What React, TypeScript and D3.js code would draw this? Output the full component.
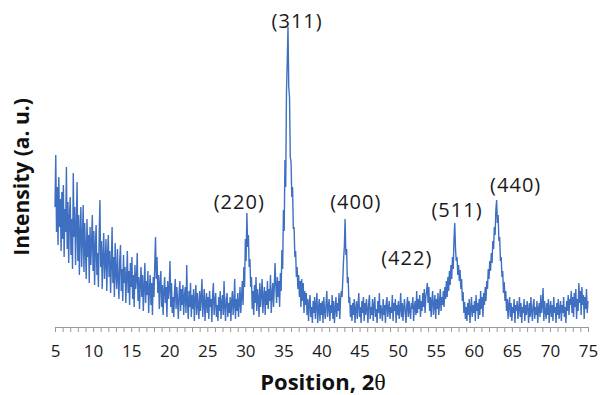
import * as d3 from 'd3';
import { useEffect, useRef } from 'react';

// 2-theta grid: 5.0 .. 75.0, step 0.1 deg
const startAngle = 5;
const stepAngle = 0.1;

// intensity (a.u.), one row per degree
const intensity: number[] = [
  120, 172, 95, 140, 82, 150, 100, 128, 76, 135,
  88, 142, 70, 118, 95, 160, 78, 125, 64, 110,
  130, 72, 108, 58, 154, 90, 120, 62, 100, 145,
  66, 112, 52, 96, 120, 60, 88, 122, 55, 104,
  78, 48, 108, 70, 92, 44, 100, 62, 84, 112,
  56, 96, 42, 80, 102, 52, 74, 40, 90, 127,
  60, 86, 38, 72, 94, 48, 66, 88, 36, 70,
  92, 50, 76, 34, 62, 100, 44, 70, 30, 84,
  54, 38, 78, 48, 28, 66, 82, 36, 58, 26,
  72, 44, 60, 24, 50, 76, 34, 56, 22, 64,
  40, 70, 28, 52, 20, 62, 38, 48, 74, 26,
  50, 18, 44, 60, 30, 52, 16, 40, 64, 24,
  46, 32, 56, 14, 38, 52, 22, 44, 12, 50,
  30, 62, 90, 48, 70, 34, 52, 18, 44, 56,
  20, 42, 12, 36, 50, 24, 40, 10, 46, 28,
  38, 66, 20, 44, 14, 30, 10, 36, 48, 18,
  40, 26, 8, 34, 46, 16, 38, 22, 42, 12,
  30, 40, 14, 62, 24, 8, 36, 20, 44, 10,
  32, 18, 38, 6, 28, 42, 12, 34, 22, 8,
  36, 16, 30, 48, 10, 26, 38, 6, 24, 34,
  14, 30, 8, 36, 20, 28, 5, 32, 44, 12,
  26, 34, 10, 22, 6, 30, 16, 36, 8, 24,
  32, 12, 46, 20, 6, 28, 34, 10, 24, 14,
  30, 6, 26, 36, 12, 22, 48, 8, 28, 16,
  34, 10, 24, 40, 14, 30, 46, 22, 60, 40,
  88, 66, 114, 80, 92, 60, 68, 40, 50, 18,
  36, 12, 42, 24, 50, 16, 38, 28, 10, 44,
  20, 34, 48, 14, 30, 40, 12, 36, 22, 46,
  18, 38, 26, 52, 14, 32, 44, 20, 40, 64,
  42, 24, 50, 30, 46, 20, 54, 36, 77, 58,
  117, 96, 167, 140, 235, 265, 300, 240, 230, 170,
  165, 130, 140, 98, 100, 70, 76, 50, 60, 38,
  52, 30, 46, 20, 48, 26, 44, 14, 36, 22,
  34, 12, 28, 6, 24, 32, 10, 20, 4, 26,
  14, 30, 8, 22, 34, 4, 18, 28, 6, 24,
  12, 26, 4, 30, 16, 8, 24, 36, 10, 20,
  28, 6, 22, 14, 32, 8, 26, 4, 18, 30,
  10, 24, 16, 34, 8, 28, 36, 30, 48, 68,
  80, 108, 72, 78, 44, 50, 24, 30, 10, 22,
  6, 24, 12, 28, 4, 18, 26, 8, 22, 34,
  10, 20, 4, 26, 14, 30, 6, 24, 12, 28,
  18, 4, 24, 32, 8, 20, 12, 28, 6, 22,
  30, 10, 18, 4, 26, 14, 34, 8, 22, 16,
  6, 28, 12, 22, 4, 24, 30, 10, 18, 26,
  8, 20, 14, 32, 6, 24, 16, 28, 4, 22,
  12, 26, 8, 18, 34, 10, 24, 6, 20, 28,
  14, 4, 22, 30, 10, 26, 16, 8, 24, 18,
  30, 6, 20, 26, 12, 36, 14, 28, 18, 32,
  10, 26, 16, 34, 20, 38, 14, 30, 36, 44,
  24, 40, 16, 30, 10, 26, 36, 12, 22, 32,
  8, 28, 18, 34, 12, 24, 38, 16, 30, 22,
  36, 20, 40, 28, 46, 30, 50, 36, 56, 42,
  62, 48, 70, 58, 88, 104, 78, 66, 70, 52,
  62, 46, 57, 38, 48, 26, 35, 14, 25, 8,
  20, 6, 24, 12, 28, 4, 18, 30, 10, 22,
  14, 26, 6, 32, 16, 24, 8, 28, 12, 36,
  18, 30, 10, 34, 22, 40, 26, 46, 38, 58,
  48, 66, 56, 74, 64, 86, 78, 100, 92, 117,
  127, 104, 112, 86, 90, 66, 70, 50, 56, 34,
  45, 26, 36, 16, 28, 8, 22, 30, 10, 24,
  6, 20, 14, 28, 4, 22, 16, 26, 8, 18,
  30, 10, 24, 4, 20, 14, 28, 6, 22, 12,
  26, 18, 4, 24, 10, 30, 16, 6, 22, 28,
  8, 20, 12, 26, 4, 18, 24, 10, 32, 14,
  22, 39, 6, 26, 16, 8, 24, 12, 28, 4,
  18, 26, 10, 22, 6, 30, 14, 20, 4, 24,
  12, 28, 8, 18, 26, 6, 22, 14, 30, 10,
  20, 4, 26, 16, 32, 12, 28, 22, 36, 14,
  30, 10, 34, 20, 38, 8, 28, 16, 44, 24,
  36, 12, 40, 22, 32, 8, 30, 18, 38, 14,
  26,
];

// Miller indices of the reflections and where their labels sit (2theta, intensity)
const peakLabels = ['(220)', '(311)', '(400)', '(422)', '(511)', '(440)'];
const labelAngle = [29.2, 36.8, 44.5, 51.2, 57.8, 65.5];
const labelLevel = [118, 299, 118, 62, 110, 135];

const xTicks = d3.range(5, 76, 1);

export default function App() {
  const svgRef = useRef<SVGSVGElement | null>(null);

  useEffect(() => {
    const svgElement = svgRef.current;
    if (!svgElement) return;
    d3.select(svgElement).selectAll('*').remove();

    const width = 602;
    const height = 395;
    const svg = d3.select(svgElement).attr('width', width).attr('height', height);

    const x = d3.scaleLinear().domain([5, 75]).range([55, 588]);
    const y = d3.scaleLinear().domain([0, 300]).range([327, 27]);

    const points = intensity.map((v, i) => [startAngle + i * stepAngle, v] as [number, number]);

    const line = d3
      .line<[number, number]>()
      .x((d) => x(d[0]))
      .y((d) => y(d[1]));

    svg
      .append('path')
      .datum(points)
      .attr('d', line)
      .attr('fill', 'none')
      .attr('stroke', '#3f6fc0')
      .attr('stroke-width', 1.4)
      .attr('stroke-linejoin', 'bevel');

    // x axis, a tick every degree, label every 5
    const axis = svg
      .append('g')
      .attr('transform', `translate(0,${y(0)})`)
      .call(
        d3
          .axisBottom(x)
          .tickValues(xTicks)
          .tickSize(5)
          .tickSizeOuter(0)
          .tickFormat((d) => ((d as number) % 5 === 0 ? String(d) : ''))
      );
    axis.select('.domain').attr('stroke', '#999');
    axis.selectAll('.tick line').attr('stroke', '#999');
    axis
      .selectAll('.tick text')
      .attr('font-family', '"Open Sans", sans-serif')
      .attr('font-size', 17)
      .attr('fill', '#1a1a1a')
      .attr('y', 18);

    // peak labels
    svg
      .selectAll('text.hkl')
      .data(peakLabels)
      .join('text')
      .attr('class', 'hkl')
      .attr('x', (_d, i) => x(labelAngle[i]))
      .attr('y', (_d, i) => y(labelLevel[i]))
      .attr('text-anchor', 'middle')
      .attr('font-family', '"Open Sans", sans-serif')
      .attr('font-size', 20)
      .attr('letter-spacing', 1)
      .attr('fill', '#1a1a1a')
      .text((d) => d);

    // axis titles
    const xTitle = svg
      .append('text')
      .attr('x', 323)
      .attr('y', 390)
      .attr('text-anchor', 'middle')
      .attr('font-family', '"Open Sans", sans-serif')
      .attr('font-size', 22)
      .attr('font-weight', 'bold')
      .attr('fill', '#111');
    xTitle.append('tspan').text('Position, 2');
    xTitle
      .append('tspan')
      .attr('font-family', '"Liberation Serif", serif')
      .attr('font-weight', 'normal')
      .attr('font-size', 24)
      .text('θ');

    svg
      .append('text')
      .attr('transform', 'translate(29,177) rotate(-90)')
      .attr('text-anchor', 'middle')
      .attr('font-family', '"Open Sans", sans-serif')
      .attr('font-size', 21)
      .attr('font-weight', 'bold')
      .attr('fill', '#111')
      .text('Intensity (a. u.)');
  }, []);

  return <svg ref={svgRef} style={{ position: 'absolute', left: 0, top: 0 }} />;
}
